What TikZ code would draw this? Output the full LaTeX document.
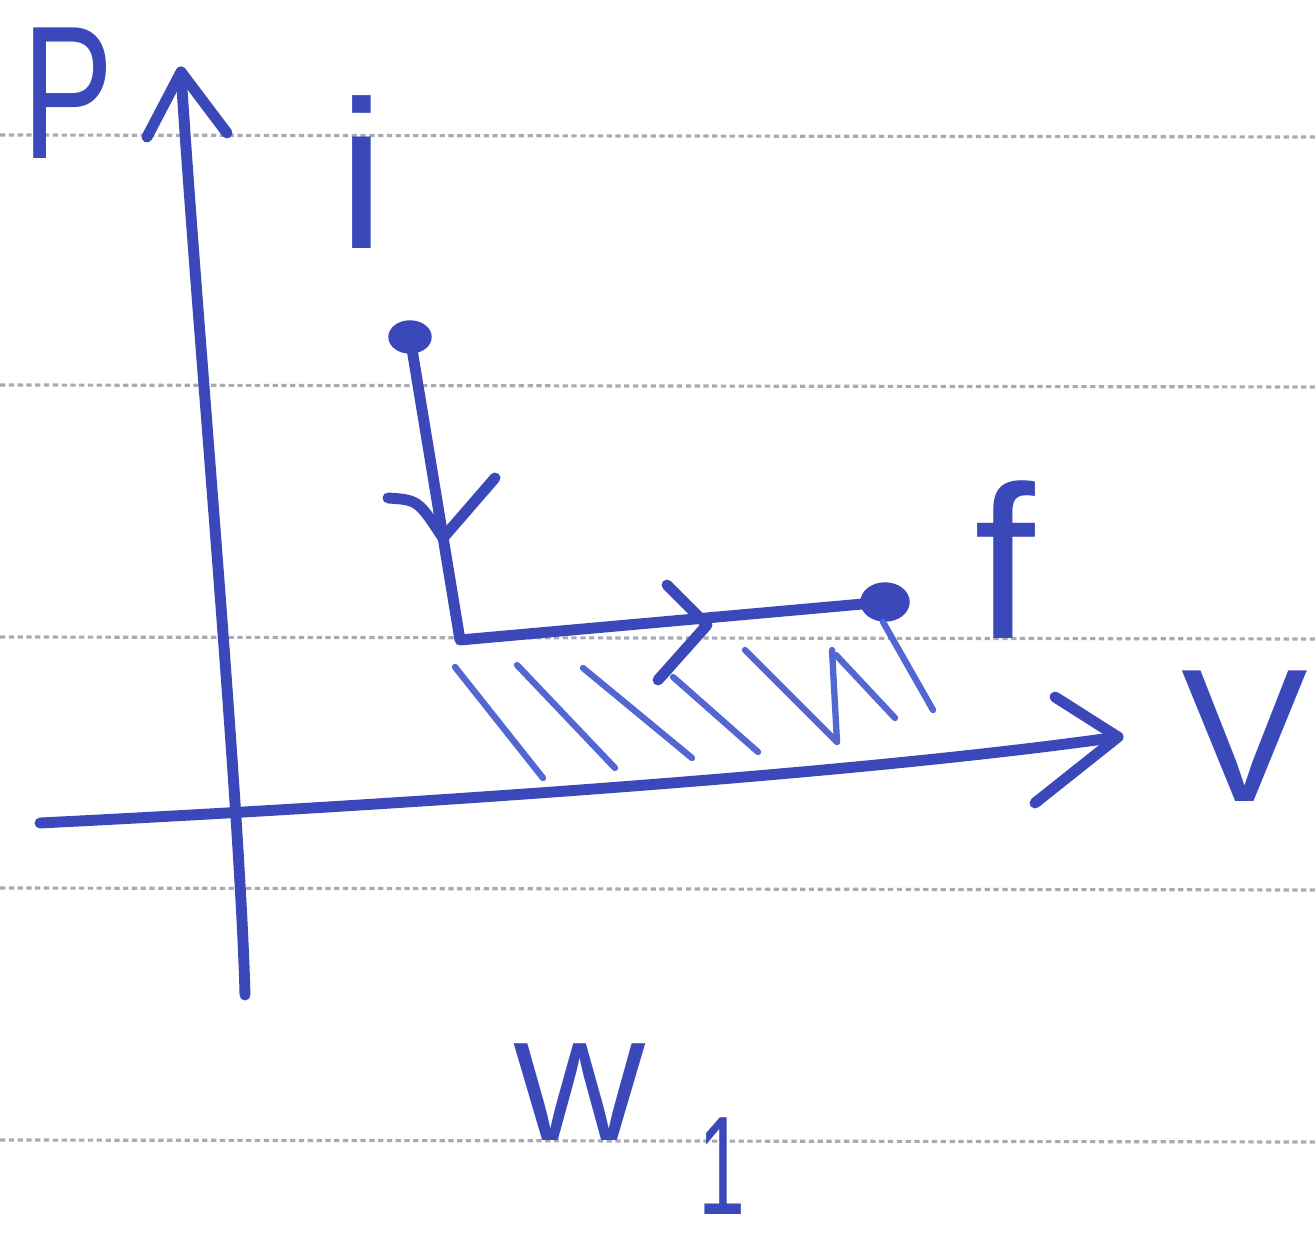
\documentclass[tikz,border=0pt]{standalone}
\usepackage{fontspec}
\setmainfont{Liberation Sans}
\usetikzlibrary{shapes.geometric}
\definecolor{pen}{RGB}{58,72,185}
\definecolor{penlight}{RGB}{82,102,212}
\definecolor{rulegray}{RGB}{170,170,182}
\begin{document}
\begin{tikzpicture}[x=0.01cm,y=-0.01cm,
  ink/.style={draw=pen,line width=3.1pt,line cap=round,line join=round},
  hatch/.style={draw=penlight,line width=1.8pt,line cap=round,line join=round},
  ruled/.style={draw=rulegray,line width=0.9pt,dash pattern=on 1.5pt off 1pt},
  dotpt/.style={ellipse,fill=pen,draw=pen,inner sep=0pt,minimum width=0.42cm,minimum height=0.32cm},
  lbl/.style={text=pen,inner sep=0pt,font=\fontsize{54}{60}\selectfont}]
\path[use as bounding box,fill=white] (0,0) rectangle (1315,1240);
% ruled paper
\foreach \yy in {135,385,637,888,1140}
  \draw[ruled] (0,\yy) -- (1315,\yy+2);
% coordinates
\coordinate (pbot) at (245,995);
\coordinate (ptip) at (181,72);
\coordinate (vleft) at (40,823);
\coordinate (vtip) at (1118,737);
\coordinate (corner) at (460,640);
\coordinate (downtip) at (443,538);
\coordinate (righttip) at (707,625);
% states
\node[dotpt] (ni) at (410,337) {};
\node[dotpt,minimum width=0.48cm,minimum height=0.38cm] (nf) at (885,602) {};
% P axis
\draw[ink] (pbot) .. controls (240,800) and (195,300) .. (ptip);
\draw[ink] (147,137) -- (ptip) -- (227,133);
% V axis
\draw[ink] (vleft) .. controls (400,805) and (850,775) .. (vtip);
\draw[ink] (1055,697) -- (vtip) -- (1035,803);
% process path
\draw[ink] (ni.center) -- (corner) -- (nf.center);
\draw[ink] (388,498) .. controls (418,500) .. (downtip) -- (495,478);
\draw[ink] (667,585) -- (righttip) -- (658,680);
% hatching (work area)
\draw[hatch] (455,667) -- (543,778);
\draw[hatch] (517,665) -- (615,768);
\draw[hatch] (583,668) -- (692,758);
\draw[hatch] (673,677) -- (758,752);
\draw[hatch] (745,650) -- (837,742) -- (832,650);
\draw[hatch] (836,655) -- (895,718);
\draw[hatch] (883,622) -- (933,710);
% labels
\node[lbl] (lP) at (68,93) {\scalebox{0.72}[1]{P}};
\node[lbl,font=\fontsize{60}{66}\selectfont] (li) at (362,172) {i};
\node[lbl,font=\fontsize{62}{68}\selectfont] (lf) at (1005,560) {f};
\node[lbl] (lV) at (1245,736) {V};
\node[lbl,font=\fontsize{40}{46}\selectfont,anchor=base west] (lW) at (513,1140) {W\kern0.52cm\raisebox{-0.74cm}{\scalebox{0.6}[1]{1}}};
\end{tikzpicture}
\end{document}
